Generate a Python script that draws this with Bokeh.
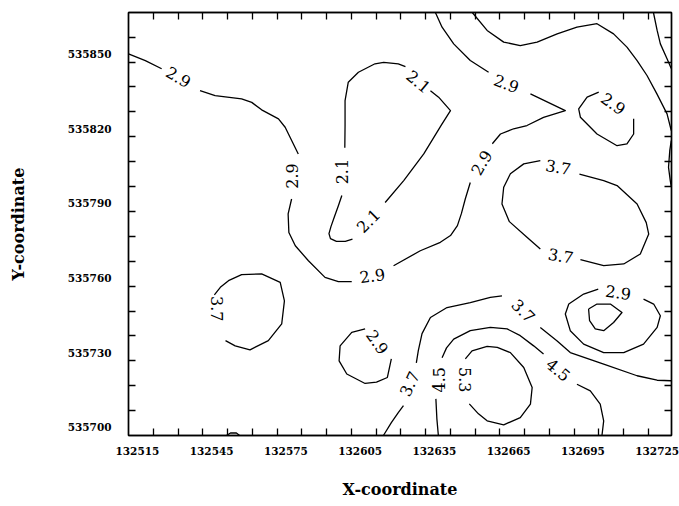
import numpy as np
from bokeh.plotting import figure
from bokeh.models import Range1d, FixedTicker, LinearAxis, BasicTickFormatter, ColumnDataSource
from bokeh.core.properties import value
from bokeh.embed import file_html
from bokeh.resources import INLINE

# ---------------- data ----------------
x_tick_labels = [132515, 132545, 132575, 132605, 132635, 132665, 132695, 132725]
y_tick_labels = [535700, 535730, 535760, 535790, 535820, 535850]

# contour 2.9 (long line, left edge -> top edge), pieces split at labels
c29_long_x = [
    [132511.4, 132518.2, 132524.8],
    [132540.3, 132546.4, 132557.1, 132561.2, 132565.2, 132572.0, 132574.7, 132580.0],
    [132577.3, 132575.9, 132576.2, 132578.8, 132584.1, 132590.8, 132596.2, 132601.6],
    [132618.5, 132629.3, 132637.4, 132641.5, 132644.3, 132645.9, 132647.5, 132649.5],
    [132658.4, 132661.7, 132667.0, 132672.4, 132679.1, 132687.9, 132673.8],
    [132656.9, 132649.5, 132642.8, 132638.1, 132635.4],
]
c29_long_y = [
    [535850.0, 535847.3, 535844.0],
    [535835.2, 535833.2, 535831.9, 535830.5, 535827.5, 535823.9, 535820.5, 535809.8],
    [535791.7, 535785.7, 535778.2, 535772.9, 535766.9, 535760.2, 535758.5, 535758.5],
    [535764.9, 535770.9, 535774.3, 535777.0, 535781.0, 535785.8, 535791.8, 535798.3],
    [535813.9, 535817.8, 535819.9, 535821.2, 535824.5, 535827.2, 535833.9],
    [535842.6, 535847.3, 535854.0, 535860.7, 535866.6],
]

# contour 2.1 loop
c21_x = [
    [132597.6, 132596.2, 132594.6, 132593.2, 132592.4, 132593.0, 132595.4, 132599.0, 132601.9],
    [132615.1, 132622.6, 132630.7, 132638.1, 132641.5, 132636.7, 132633.4],
    [132623.3, 132620.4, 132614.5, 132611.0, 132604.3, 132600.2, 132598.9, 132598.9, 132598.8],
]
c21_y = [
    [535793.1, 535789.0, 535784.6, 535780.6, 535777.8, 535775.8, 535774.7, 535774.7, 535775.6],
    [535790.3, 535799.1, 535809.8, 535821.9, 535827.2, 535832.6, 535835.2],
    [535844.9, 535846.0, 535846.6, 535846.0, 535842.6, 535838.6, 535831.2, 535821.2, 535812.3],
]

# small 2.9 loop, upper right
c29_ur_x = [[132715.5, 132715.5, 132712.8, 132708.8, 132700.7, 132694.0, 132693.3, 132696.7, 132701.4]]
c29_ur_y = [[535823.9, 535817.8, 535813.8, 535813.1, 535817.8, 535824.5, 535827.9, 535832.6, 535834.6]]

# 3.7 loop, right middle
c37_mid_x = [
    [132677.8, 132671.1, 132665.7, 132663.0, 132662.3, 132665.3, 132672.4, 132677.8],
    [132694.0, 132703.4, 132711.5, 132718.2, 132721.6, 132720.6, 132716.9, 132708.8, 132703.4, 132693.6],
]
c37_mid_y = [
    [535807.1, 535805.8, 535801.8, 535796.4, 535789.7, 535782.6, 535776.3, 535771.6],
    [535767.3, 535764.9, 535765.6, 535769.6, 535777.6, 535782.2, 535789.7, 535797.1, 535799.1, 535801.7],
]

# unlabelled lines near the upper right corner
c_top_x = [
    [132650.3, 132656.3, 132663.0, 132669.7, 132676.5, 132684.6, 132692.6, 132700.7,
     132707.4, 132712.8, 132716.9, 132720.9, 132724.9, 132729.0, 132730.7],
    [132723.5, 132725.0, 132726.3, 132729.0, 132730.7],
    [132730.7, 132730.1, 132729.6, 132730.3, 132730.7],
]
c_top_y = [
    [535866.6, 535859.4, 535854.7, 535853.3, 535854.7, 535858.0, 535860.7, 535862.1,
     535858.0, 535852.7, 535847.3, 535841.3, 535833.9, 535825.9, 535819.2],
    [535866.6, 535859.4, 535854.0, 535848.0, 535844.1],
    [535815.1, 535811.1, 535804.4, 535799.1, 535796.7],
]

# 3.7 loop, left
c37_left_x = [[132550.6, 132554.5, 132560.5, 132567.9, 132573.3, 132574.4, 132572.7, 132565.2,
               132557.1, 132551.8, 132548.5, 132546.1]]
c37_left_y = [[535734.8, 535732.7, 535731.1, 535734.8, 535741.5, 535750.8, 535758.2, 535761.6,
               535761.3, 535758.9, 535756.2, 535753.2]]

# 2.9 loop, bottom middle
c29_bm_x = [[132617.6, 132616.0, 132611.6, 132607.0, 132599.6, 132596.5, 132596.9, 132601.6, 132607.0]]
c29_bm_y = [[535727.5, 535720.0, 535718.1, 535717.6, 535721.4, 535726.7, 535732.7, 535738.1, 535739.5]]

# 3.7 line, bottom edge -> right edge
c37_low_x = [
    [132614.4, 132617.6, 132620.4, 132622.5],
    [132627.7, 132628.5, 132630.0, 132633.4, 132640.1, 132649.5, 132657.6, 132662.3],
    [132677.8, 132684.6, 132689.9, 132703.4, 132716.9, 132725.0, 132730.7],
]
c37_low_y = [
    [535696.7, 535701.9, 535705.9, 535708.7],
    [535725.9, 535730.8, 535737.6, 535744.1, 535748.1, 535750.1, 535752.2, 535752.8],
    [535740.1, 535734.7, 535730.0, 535725.4, 535720.7, 535718.9, 535718.7],
]

# 4.5 line
c45_x = [
    [132636.6, 132636.0, 132635.6],
    [132638.1, 132639.9, 132642.8, 132649.5, 132657.6, 132664.4, 132669.7, 132675.1, 132679.1],
    [132692.6, 132698.0, 132702.0, 132703.4, 132702.7],
]
c45_y = [
    [535696.7, 535703.4, 535711.4],
    [535727.9, 535731.9, 535735.4, 535738.8, 535740.1, 535739.5, 535736.8, 535732.7, 535729.4],
    [535717.3, 535714.6, 535709.3, 535702.6, 535696.7],
]

# 5.3 loop
c53_x = [[132647.5, 132650.2, 132656.3, 132660.4, 132665.7, 132671.1, 132674.5, 132673.8,
          132669.7, 132663.0, 132656.3, 132652.8, 132649.1]]
c53_y = [[535727.5, 535730.7, 535732.5, 535732.1, 535730.0, 535724.0, 535716.0, 535709.3,
          535703.9, 535701.0, 535702.6, 535705.4, 535709.4]]

# 2.9 loop lower right and its inner loop
c29_lr_x = [
    [132719.5, 132723.6, 132726.3, 132725.0, 132719.5, 132711.5, 132703.4, 132695.3,
     132689.9, 132687.9, 132689.3, 132695.3, 132701.2],
    [132697.3, 132700.7, 132706.1, 132710.8, 132707.4, 132703.4, 132700.0, 132697.7, 132697.3],
]
c29_lr_y = [
    [535751.5, 535749.5, 535744.8, 535740.1, 535733.4, 535730.0, 535730.0, 535733.4,
     535738.8, 535745.5, 535749.5, 535753.5, 535755.5],
    [535747.5, 535749.5, 535749.5, 535746.1, 535742.1, 535738.8, 535739.5, 535742.8, 535747.5],
]

# tiny arc at bottom edge
c_small_x = [[132551.0, 132552.6, 132555.0, 132556.3]]
c_small_y = [[535696.7, 535697.7, 535697.7, 535696.7]]

# contour labels
label_text = ["2.9", "2.9", "2.9", "2.9", "2.9", "2.1", "2.1", "2.1", "2.9", "3.7",
              "3.7", "3.7", "2.9", "3.7", "3.7", "4.5", "4.5", "5.3", "2.9"]
label_x = [132531.6, 132577.4, 132609.9, 132654.0, 132664.1, 132597.6, 132608.3, 132628.6,
           132707.3, 132685.1, 132686.1, 132547.1, 132612.0, 132624.9, 132671.0, 132637.0,
           132685.1, 132647.3, 132709.3]
label_y = [535840.7, 535800.9, 535760.9, 535806.3, 535838.1, 535802.7, 535783.0, 535838.9,
           535830.0, 535804.5, 535768.9, 535747.6, 535734.3, 535717.5, 535746.8, 535719.1,
           535723.1, 535719.1, 535754.2]
label_angle_deg = [-30, 90, 8, 60, -20, 90, 45, -40, -35, -10,
                   -10, -90, -55, 65, -45, 90, -40, -90, -8]

# ---------------- figure ----------------
FONT = "DejaVu Serif"

p = figure(width=679, height=506,
           x_range=Range1d(132511.4, 132730.8), y_range=Range1d(535696.7, 535866.6),
           x_axis_type=None, y_axis_type=None,
           output_backend="svg", toolbar_location=None,
           min_border_left=128, min_border_right=8, min_border_top=12, min_border_bottom=71)
p.background_fill_color = "white"
p.border_fill_color = "white"
p.outline_line_color = "black"
p.outline_line_width = 1.4

x_minor = list(np.arange(132521.5, 132722.0, 10.0))
y_minor = list(np.arange(535706.7, 535857.0, 10.0))


def make_axis(ticks, minor, label=None):
    ax = LinearAxis(ticker=FixedTicker(ticks=ticks, minor_ticks=minor),
                    formatter=BasicTickFormatter(use_scientific=False))
    ax.major_tick_in = 0
    ax.major_tick_out = 0
    ax.minor_tick_in = 7
    ax.minor_tick_out = 0
    ax.minor_tick_line_color = "black"
    ax.minor_tick_line_width = 1.3
    ax.axis_line_color = "black"
    ax.axis_line_width = 1.4
    ax.major_label_text_font = FONT
    ax.major_label_text_font_style = "bold"
    ax.major_label_text_font_size = "10.5px"
    ax.major_label_text_color = "black"
    if label:
        ax.axis_label = label
        ax.axis_label_text_font = FONT
        ax.axis_label_text_font_style = "bold"
        ax.axis_label_text_font_size = "16px"
        ax.axis_label_text_color = "black"
    return ax


xb = make_axis(x_tick_labels, x_minor, "X-coordinate")
xb.major_label_standoff = 11
xb.axis_label_standoff = 22
p.add_layout(xb, "below")

yl = make_axis(y_tick_labels, y_minor, "Y-coordinate")
yl.major_label_standoff = 17
yl.axis_label_standoff = 37
p.add_layout(yl, "left")

# frame ticks on the other two sides (no labels: no major ticks)
p.add_layout(make_axis([], x_minor), "above")
p.add_layout(make_axis([], y_minor), "right")

all_x = (c29_long_x + c21_x + c29_ur_x + c37_mid_x + c_top_x + c37_left_x + c29_bm_x +
         c37_low_x + c45_x + c53_x + c29_lr_x + c_small_x)
all_y = (c29_long_y + c21_y + c29_ur_y + c37_mid_y + c_top_y + c37_left_y + c29_bm_y +
         c37_low_y + c45_y + c53_y + c29_lr_y + c_small_y)

p.multi_line(xs=all_x, ys=all_y, line_color="black", line_width=1.3, line_join="round")

lab_src = ColumnDataSource(dict(x=label_x, y=label_y, text=label_text,
                                angle=list(np.deg2rad(label_angle_deg))))
p.text(x="x", y="y", text="text", angle="angle", source=lab_src,
       text_font=value(FONT), text_font_size="16px", text_color="black",
       text_align="center", text_baseline="middle")

open("out.html", "w").write(file_html(p, INLINE))
